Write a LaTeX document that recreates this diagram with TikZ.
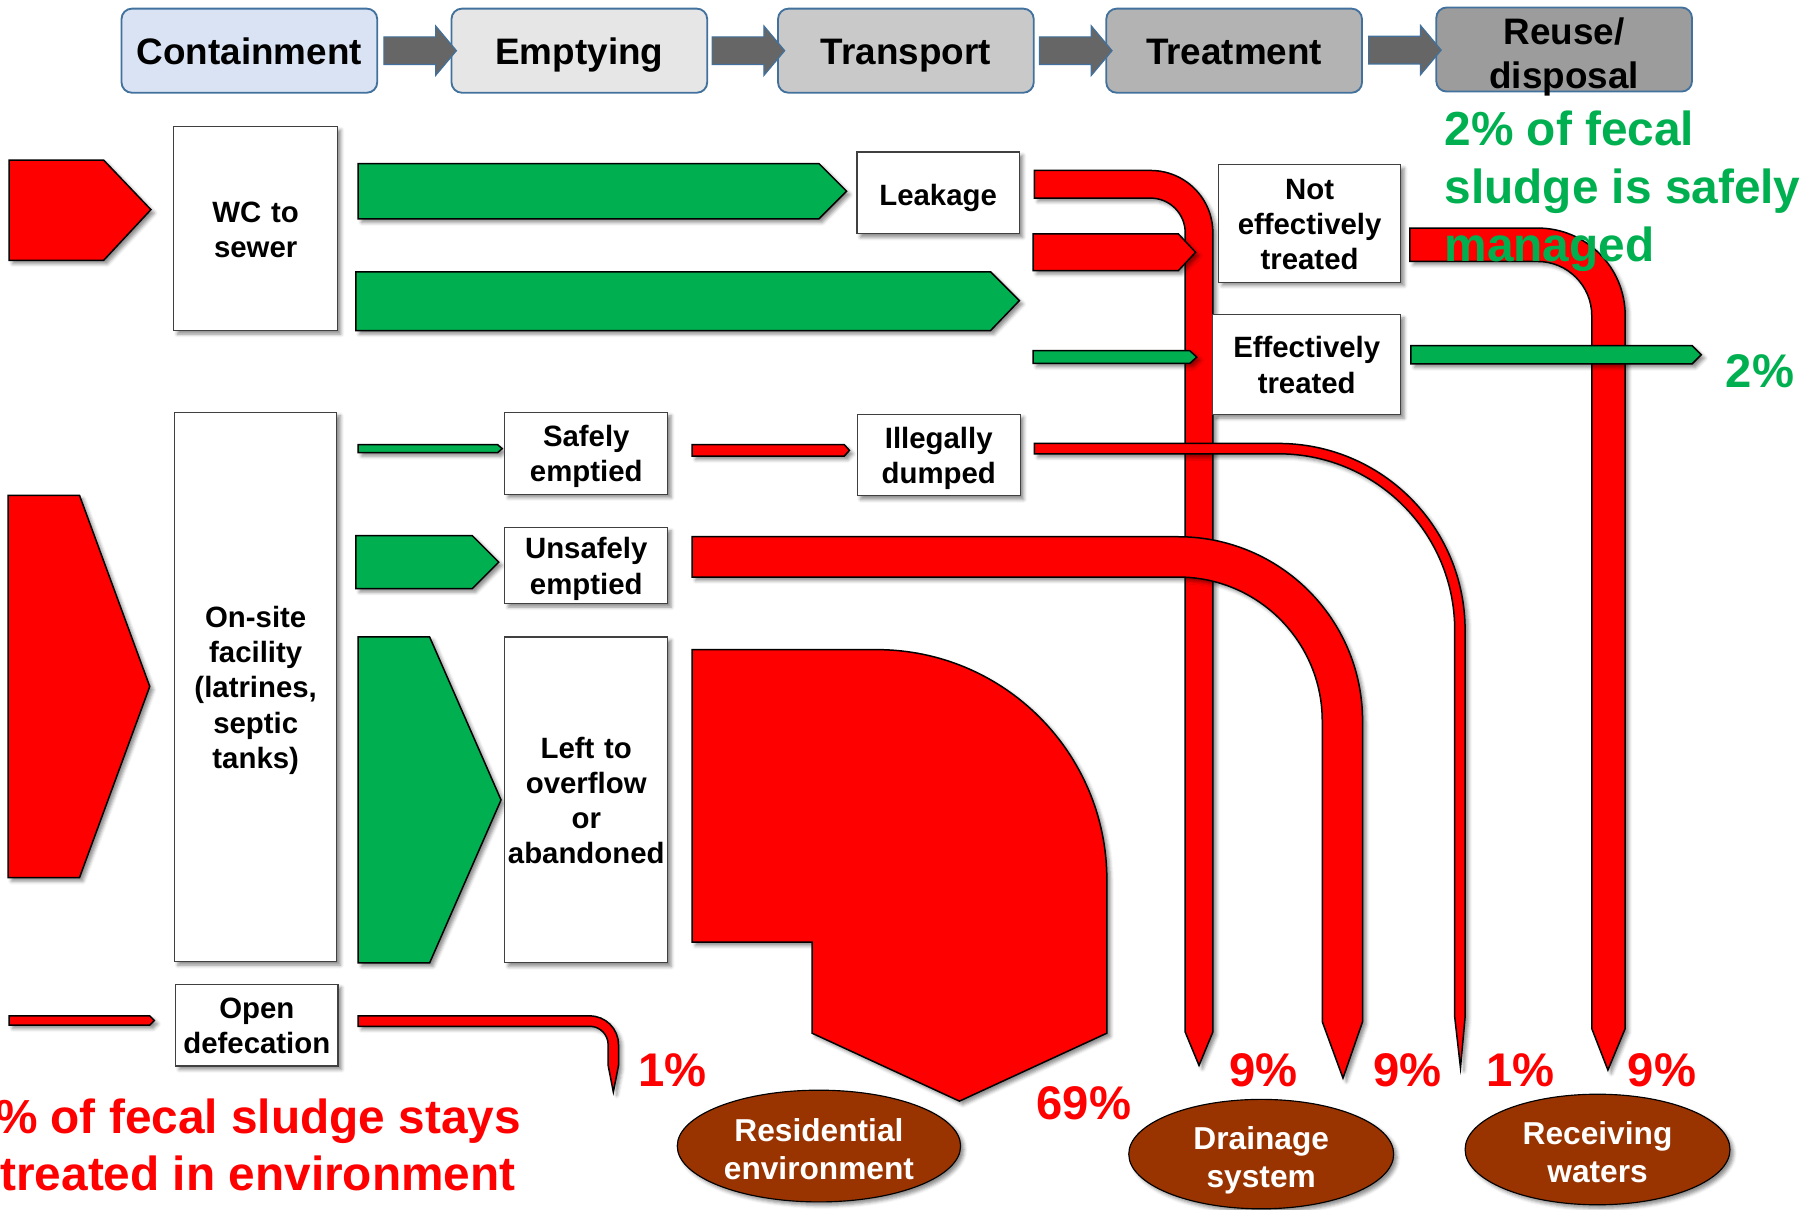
\documentclass[tikz,border=0pt]{standalone}
\usepackage{fontspec}
\setmainfont{Liberation Sans}
\usepackage{tikz}
\usetikzlibrary{calc,shapes.geometric,shapes.arrows,shadows.blur}

\definecolor{stageblue}{HTML}{41719C}
\definecolor{arrowgray}{HTML}{666666}
\definecolor{flowgreen}{HTML}{00B050}
\definecolor{sinkbrown}{HTML}{993300}
\definecolor{contfill}{HTML}{DAE3F3}
\definecolor{emptfill}{HTML}{E6E6E6}
\definecolor{transfill}{HTML}{C9C9C9}
\definecolor{treatfill}{HTML}{B3B3B3}
\definecolor{reusefill}{HTML}{9C9C9C}

% line box as in the slide: taller above the baseline than below
\newcommand{\linestrut}[1]{\rule[-0.2em]{0pt}{#1}}

\tikzset{
  struts/.style={execute at begin node={\linestrut{#1}},execute at end node={\linestrut{#1}}},
  struts/.default=1.15em,
  stage/.style={draw=stageblue,line width=1.6pt,rounded corners=9pt,minimum width=222pt,
                minimum height=73pt,inner sep=0pt,align=center,struts,
                font=\fontsize{32}{38}\selectfont\bfseries},
  stagearrow/.style={single arrow,draw=stageblue,fill=arrowgray,line width=1pt,inner sep=11.5pt,
                     minimum height=63pt,single arrow head extend=9.5pt,single arrow tip angle=100},
  softshadow/.style={blur shadow={shadow xshift=3pt,shadow yshift=-3pt,shadow blur radius=3pt,
                     shadow opacity=45}},
  box/.style={draw=black!75,fill=white,line width=1pt,inner sep=0pt,text width=140pt,align=center,
              softshadow,struts,font=\fontsize{25.5}{30.5}\selectfont\bfseries},
  sink/.style={ellipse,draw=black,fill=sinkbrown,text=white,line width=1pt,inner xsep=-10pt,
               inner ysep=0pt,text width=170pt,align=center,text height=8pt,text depth=16.4pt,
               softshadow,font=\fontsize{27.5}{33}\selectfont\bfseries},
  redflow/.style={fill=red,draw=black,line width=1.3pt,softshadow},
  greenflow/.style={fill=flowgreen,draw=black,line width=1.3pt,softshadow},
  pct/.style={text=red,inner sep=0pt,font=\fontsize{41}{49}\selectfont\bfseries},
  bigtext/.style={inner sep=0pt,font=\fontsize{41.5}{50}\selectfont\bfseries},
}

\begin{document}
\begin{tikzpicture}[x=1pt,y=-1pt]
  \useasboundingbox (0,0) rectangle (1568,1050);

  % service chain
  \node[stage,fill=contfill]  (cont)  at (216.5,44) {Containment};
  \node[stage,fill=emptfill]  (empt)  at (503,44)   {Emptying};
  \node[stage,fill=transfill] (trans) at (786.5,44) {Transport};
  \node[stage,fill=treatfill] (treat) at (1071.5,44){Treatment};
  \node[stage,fill=reusefill,text width=200pt,text height=10pt,text depth=19.2pt] (reuse)
    at (1358,43) {Reuse/\\disposal};
  \node[stagearrow] (s1) at ($(cont.east)!.5!(empt.west)$) {};
  \node[stagearrow] (s2) at ($(empt.east)!.5!(trans.west)$) {};
  \node[stagearrow] (s3) at ($(trans.east)!.5!(treat.west)$) {};
  \node[stagearrow] (s4) at ($(treat.east)!.5!(reuse.west)$) {};

  % leakage down to the drainage system
  \draw[redflow] (898,148) -- (999,148) arc[start angle=90,end angle=0,radius=54pt]
    -- (1053,896) -- (1041,925) -- (1029,896) -- (1029,202)
    arc[start angle=0,end angle=90,radius=30pt] -- (898,172) -- cycle;

  % inflows
  \draw[redflow] (8,139) -- (90,139) -- (131,182) -- (90,226) -- (8,226) -- cycle;
  \draw[redflow] (7,430) -- (69,430) -- (130,596) -- (69,762) -- (7,762) -- cycle;
  \draw[redflow] (8,882) -- (130,882) -- (134,886) -- (130,890) -- (8,890) -- cycle;

  % sewer
  \draw[greenflow] (311,142) -- (711,142) -- (735,166) -- (711,190) -- (311,190) -- cycle;
  \draw[greenflow] (309,236) -- (860,236) -- (885,261) -- (860,287) -- (309,287) -- cycle;
  \draw[redflow] (897,203) -- (1023,203) -- (1038,219) -- (1023,235) -- (897,235) -- cycle;
  \draw[greenflow] (897,304.5) -- (1033,304.5) -- (1039,310) -- (1033,315.5) -- (897,315.5) -- cycle;

  % on-site
  \draw[greenflow] (311,386) -- (432,386) -- (436,389.5) -- (432,393) -- (311,393) -- cycle;
  \draw[greenflow] (309,465) -- (410,465) -- (433,488) -- (410,511) -- (309,511) -- cycle;
  \draw[greenflow] (311,553) -- (373,553) -- (435,694.5) -- (373,836) -- (311,836) -- cycle;
  \draw[redflow] (601,386) -- (733,386) -- (737.5,391) -- (733,396) -- (601,396) -- cycle;

  \draw[redflow] (601,564) -- (761,564) arc[start angle=90,end angle=0,radius=200pt]
    -- (961,897) -- (833,956) -- (705,897) -- (705,818) -- (601,818) -- cycle;
  \draw[redflow] (601,466) -- (1023,466) arc[start angle=90,end angle=0,radius=160pt]
    -- (1183,887) -- (1166,936) -- (1148,887) -- (1148,626)
    arc[start angle=0,end angle=90,radius=125pt] -- (601,501) -- cycle;
  \draw[redflow] (898,385) -- (1110,385) arc[start angle=90,end angle=0,radius=162pt]
    -- (1272,883) -- (1268,927) -- (1263,883) -- (1263,547)
    arc[start angle=0,end angle=90,radius=153pt] -- (898,394) -- cycle;
  \draw[redflow] (311,882) -- (512,882) arc[start angle=90,end angle=0,radius=25pt]
    -- (537,925) -- (532.5,948) -- (528,925) -- (528,907)
    arc[start angle=0,end angle=90,radius=16pt] -- (311,891) -- cycle;

  % treatment outflows
  \draw[redflow] (1224,198) -- (1335,198) arc[start angle=90,end angle=0,radius=76pt]
    -- (1411,893) -- (1396,929) -- (1382,893) -- (1382,274)
    arc[start angle=0,end angle=90,radius=47pt] -- (1224,227) -- cycle;
  \draw[greenflow] (1225,300) -- (1469,300) -- (1477,308) -- (1469,316) -- (1225,316) -- cycle;

  % boxes
  \node[box,minimum width=142pt,minimum height=177pt] (wc) at (222,198.5) {WC to\\sewer};
  \node[box,struts=1.3em,minimum width=141pt,minimum height=71pt] (leak) at (814.5,167.5) {Leakage};
  \node[box,minimum width=158pt,minimum height=102pt] (noteff) at (1137,194) {Not\\effectively\\treated};
  \node[box,minimum width=163pt,minimum height=87pt] (eff) at (1134.5,316.5) {Effectively\\treated};
  \node[box,minimum width=141pt,minimum height=477pt] (onsite) at (222,596.5)
    {On-site\\facility\\(latrines,\\septic\\tanks)};
  \node[box,minimum width=141.5pt,minimum height=71pt] (safe) at (509,393.5) {Safely\\emptied};
  \node[box,minimum width=141.5pt,minimum height=66pt] (unsafe) at (509,491) {Unsafely\\emptied};
  \node[box,minimum width=141.5pt,minimum height=283pt] (left) at (509,694.5)
    {Left to\\overflow\\or\\abandoned};
  \node[box,minimum width=141.6pt,minimum height=71pt] (illegal) at (815,395) {Illegally\\dumped};
  \node[box,minimum width=141pt,minimum height=71pt] (opendef) at (223,890) {Open\\defecation};

  % receiving ends
  \node[sink,minimum width=246pt,minimum height=97pt] (resid) at (711,995) {Residential\\environment};
  \node[sink,minimum width=230pt,minimum height=95pt] (drain) at (1095,1002) {Drainage\\system};
  \node[sink,minimum width=230pt,minimum height=96pt] (recv) at (1387,998) {Receiving\\waters};

  \node[pct] (p1)  at (584,929)  {1\%};
  \node[pct] (p69) at (941,958)  {69\%};
  \node[pct] (p9a) at (1097,929) {9\%};
  \node[pct] (p9b) at (1222,929) {9\%};
  \node[pct] (p1b) at (1320,929) {1\%};
  \node[pct] (p9c) at (1443,929) {9\%};
  \node[pct,text=flowgreen] (p2) at (1528,322) {2\%};

  \node[bigtext,text=flowgreen,align=left,anchor=west] (safemsg) at (1254,166)
    {2\% of fecal\\sludge is safely\\managed};
  \node[bigtext,text=red,align=center] (unsafemsg) at (224,994)
    {\% of fecal sludge stays\\treated in environment};
\end{tikzpicture}
\end{document}
